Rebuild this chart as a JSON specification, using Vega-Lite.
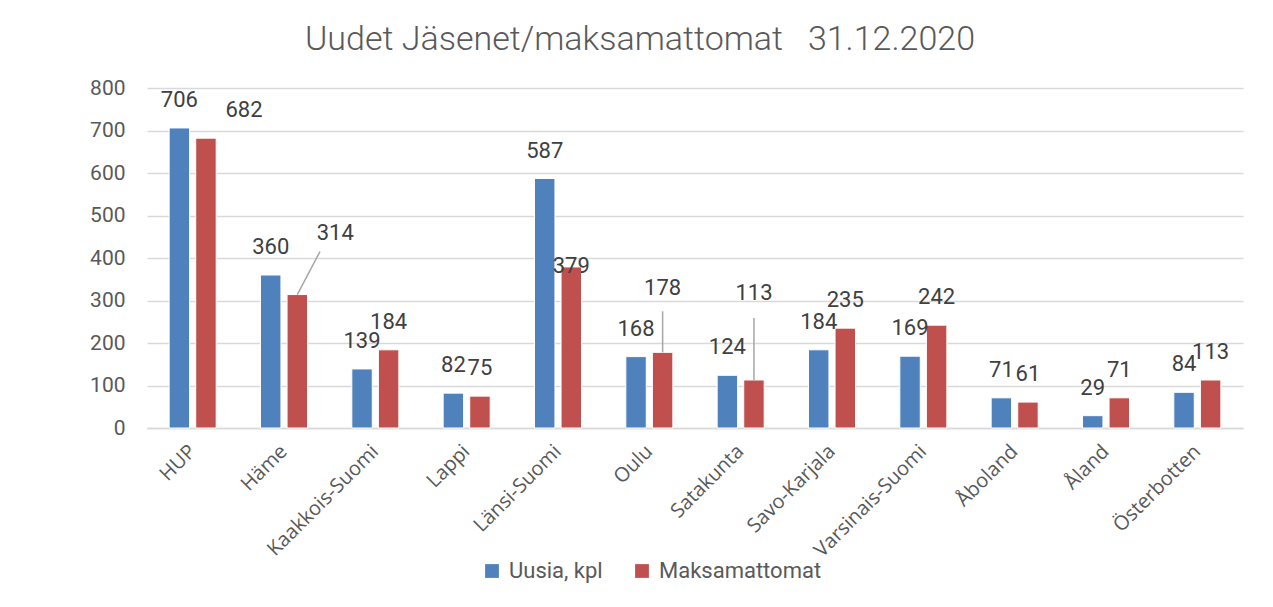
{
  "$schema": "https://vega.github.io/schema/vega-lite/v6.json",
  "width": 1096,
  "height": 340,
  "autosize": {"type": "none"},
  "padding": {"left": 147, "top": 88, "right": 30, "bottom": 179},
  "background": "white",
  "config": {"view": {"stroke": null}},
  "title": {
    "text": "Uudet Jäsenet/maksamattomat\u00a0\u00a0\u00a031.12.2020",
    "font": "Roboto",
    "fontSize": 34,
    "fontWeight": 300,
    "color": "#595959",
    "anchor": "middle",
    "dx": -55,
    "offset": 20
  },
  "data": {
    "values": [
      {"alue": "HUP", "sarja": "Uusia, kpl", "arvo": 706},
      {"alue": "HUP", "sarja": "Maksamattomat", "arvo": 682},
      {"alue": "Häme", "sarja": "Uusia, kpl", "arvo": 360},
      {"alue": "Häme", "sarja": "Maksamattomat", "arvo": 314},
      {"alue": "Kaakkois-Suomi", "sarja": "Uusia, kpl", "arvo": 139},
      {"alue": "Kaakkois-Suomi", "sarja": "Maksamattomat", "arvo": 184},
      {"alue": "Lappi", "sarja": "Uusia, kpl", "arvo": 82},
      {"alue": "Lappi", "sarja": "Maksamattomat", "arvo": 75},
      {"alue": "Länsi-Suomi", "sarja": "Uusia, kpl", "arvo": 587},
      {"alue": "Länsi-Suomi", "sarja": "Maksamattomat", "arvo": 379},
      {"alue": "Oulu", "sarja": "Uusia, kpl", "arvo": 168},
      {"alue": "Oulu", "sarja": "Maksamattomat", "arvo": 178},
      {"alue": "Satakunta", "sarja": "Uusia, kpl", "arvo": 124},
      {"alue": "Satakunta", "sarja": "Maksamattomat", "arvo": 113},
      {"alue": "Savo-Karjala", "sarja": "Uusia, kpl", "arvo": 184},
      {"alue": "Savo-Karjala", "sarja": "Maksamattomat", "arvo": 235},
      {"alue": "Varsinais-Suomi", "sarja": "Uusia, kpl", "arvo": 169},
      {"alue": "Varsinais-Suomi", "sarja": "Maksamattomat", "arvo": 242},
      {"alue": "Åboland", "sarja": "Uusia, kpl", "arvo": 71},
      {"alue": "Åboland", "sarja": "Maksamattomat", "arvo": 61},
      {"alue": "Åland", "sarja": "Uusia, kpl", "arvo": 29},
      {"alue": "Åland", "sarja": "Maksamattomat", "arvo": 71},
      {"alue": "Österbotten", "sarja": "Uusia, kpl", "arvo": 84},
      {"alue": "Österbotten", "sarja": "Maksamattomat", "arvo": 113}
    ]
  },
  "encoding": {
    "x": {
      "field": "alue",
      "type": "nominal",
      "sort": null,
      "title": null,
      "scale": {"paddingInner": 0.485, "paddingOuter": 0.2425},
      "axis": {
        "labelAngle": -45,
        "labelAlign": "right",
        "labelBaseline": "middle",
        "labelFont": "Open Sans",
        "labelFontSize": 20,
        "labelColor": "#595959",
        "labelPadding": 20,
        "labelLimit": 300,
        "ticks": false,
        "domainColor": "#D9D9D9",
        "domainWidth": 1.5
      }
    },
    "xOffset": {
      "field": "sarja",
      "type": "nominal",
      "sort": ["Uusia, kpl", "Maksamattomat"],
      "scale": {"paddingInner": 0.23, "paddingOuter": 0}
    },
    "y": {
      "field": "arvo",
      "type": "quantitative",
      "title": null,
      "scale": {"domain": [0, 800], "nice": false},
      "axis": {
        "values": [0, 100, 200, 300, 400, 500, 600, 700, 800],
        "labelFont": "Roboto",
        "labelFontSize": 21,
        "labelColor": "#595959",
        "labelPadding": 22,
        "ticks": false,
        "domain": false,
        "gridColor": "#D9D9D9",
        "gridWidth": 1.5
      }
    },
    "color": {
      "field": "sarja",
      "type": "nominal",
      "sort": ["Uusia, kpl", "Maksamattomat"],
      "scale": {"domain": ["Uusia, kpl", "Maksamattomat"], "range": ["#4F81BD", "#C0504D"]},
      "legend": {
        "title": null,
        "orient": "none",
        "direction": "horizontal",
        "legendX": 334,
        "legendY": 472,
        "symbolType": "square",
        "symbolSize": 190,
        "symbolStrokeWidth": 0,
        "labelFont": "Roboto",
        "labelFontSize": 22,
        "labelColor": "#595959",
        "labelLimit": 300,
        "columnPadding": 28,
        "labelOffset": 6
      }
    }
  },
  "layer": [
    {"mark": {"type": "bar", "stroke": "white", "strokeWidth": 1}},
    {
      "transform": [{"filter": "datum.sarja == 'Uusia, kpl' || indexof(['Kaakkois-Suomi','Lappi','Savo-Karjala','Varsinais-Suomi','Åboland','Åland','Österbotten'], datum.alue) >= 0"}],
      "mark": {"type": "text", "baseline": "bottom", "dy": -16, "font": "Roboto", "fontSize": 22, "color": "#404040"},
      "encoding": {"text": {"field": "arvo", "type": "quantitative"}, "color": {"value": "#404040"}}
    },
    {
      "transform": [{"filter": "datum.sarja == 'Maksamattomat' && datum.alue == 'HUP'"}],
      "mark": {"type": "text", "baseline": "bottom", "dy": -16, "dx": 38, "font": "Roboto", "fontSize": 22, "color": "#404040"},
      "encoding": {"text": {"field": "arvo", "type": "quantitative"}, "color": {"value": "#404040"}}
    },
    {
      "transform": [{"filter": "datum.sarja == 'Maksamattomat' && datum.alue == 'Häme'"}],
      "mark": {"type": "text", "baseline": "bottom", "dy": -50, "dx": 38, "font": "Roboto", "fontSize": 22, "color": "#404040"},
      "encoding": {"text": {"field": "arvo", "type": "quantitative"}, "color": {"value": "#404040"}}
    },
    {
      "transform": [{"filter": "datum.sarja == 'Maksamattomat' && datum.alue == 'Länsi-Suomi'"}],
      "mark": {"type": "text", "baseline": "bottom", "dy": 11, "font": "Roboto", "fontSize": 22, "color": "#404040"},
      "encoding": {"text": {"field": "arvo", "type": "quantitative"}, "color": {"value": "#404040"}}
    },
    {
      "transform": [{"filter": "datum.sarja == 'Maksamattomat' && datum.alue == 'Oulu'"}],
      "mark": {"type": "text", "baseline": "bottom", "dy": -52, "font": "Roboto", "fontSize": 22, "color": "#404040"},
      "encoding": {"text": {"field": "arvo", "type": "quantitative"}, "color": {"value": "#404040"}}
    },
    {
      "transform": [{"filter": "datum.sarja == 'Maksamattomat' && datum.alue == 'Satakunta'"}],
      "mark": {"type": "text", "baseline": "bottom", "dy": -75, "font": "Roboto", "fontSize": 22, "color": "#404040"},
      "encoding": {"text": {"field": "arvo", "type": "quantitative"}, "color": {"value": "#404040"}}
    },
    {
      "transform": [{"filter": "datum.sarja == 'Maksamattomat' && datum.alue == 'Oulu'"}],
      "mark": {"type": "rule", "color": "#A6A6A6", "strokeWidth": 1.5, "y2Offset": -41},
      "encoding": {"y2": {"field": "arvo"}, "color": {"value": "#A6A6A6"}}
    },
    {
      "transform": [{"filter": "datum.sarja == 'Maksamattomat' && datum.alue == 'Satakunta'"}],
      "mark": {"type": "rule", "color": "#A6A6A6", "strokeWidth": 1.5, "y2Offset": -62},
      "encoding": {"y2": {"field": "arvo"}, "color": {"value": "#A6A6A6"}}
    },
    {
      "transform": [{"filter": "datum.sarja == 'Maksamattomat' && datum.alue == 'Häme'"}],
      "mark": {"type": "rule", "color": "#A6A6A6", "strokeWidth": 1.5, "y2Offset": -43, "x2Offset": 36},
      "encoding": {"x2": {"field": "alue"}, "y2": {"field": "arvo"}, "color": {"value": "#A6A6A6"}}
    }
  ]
}
